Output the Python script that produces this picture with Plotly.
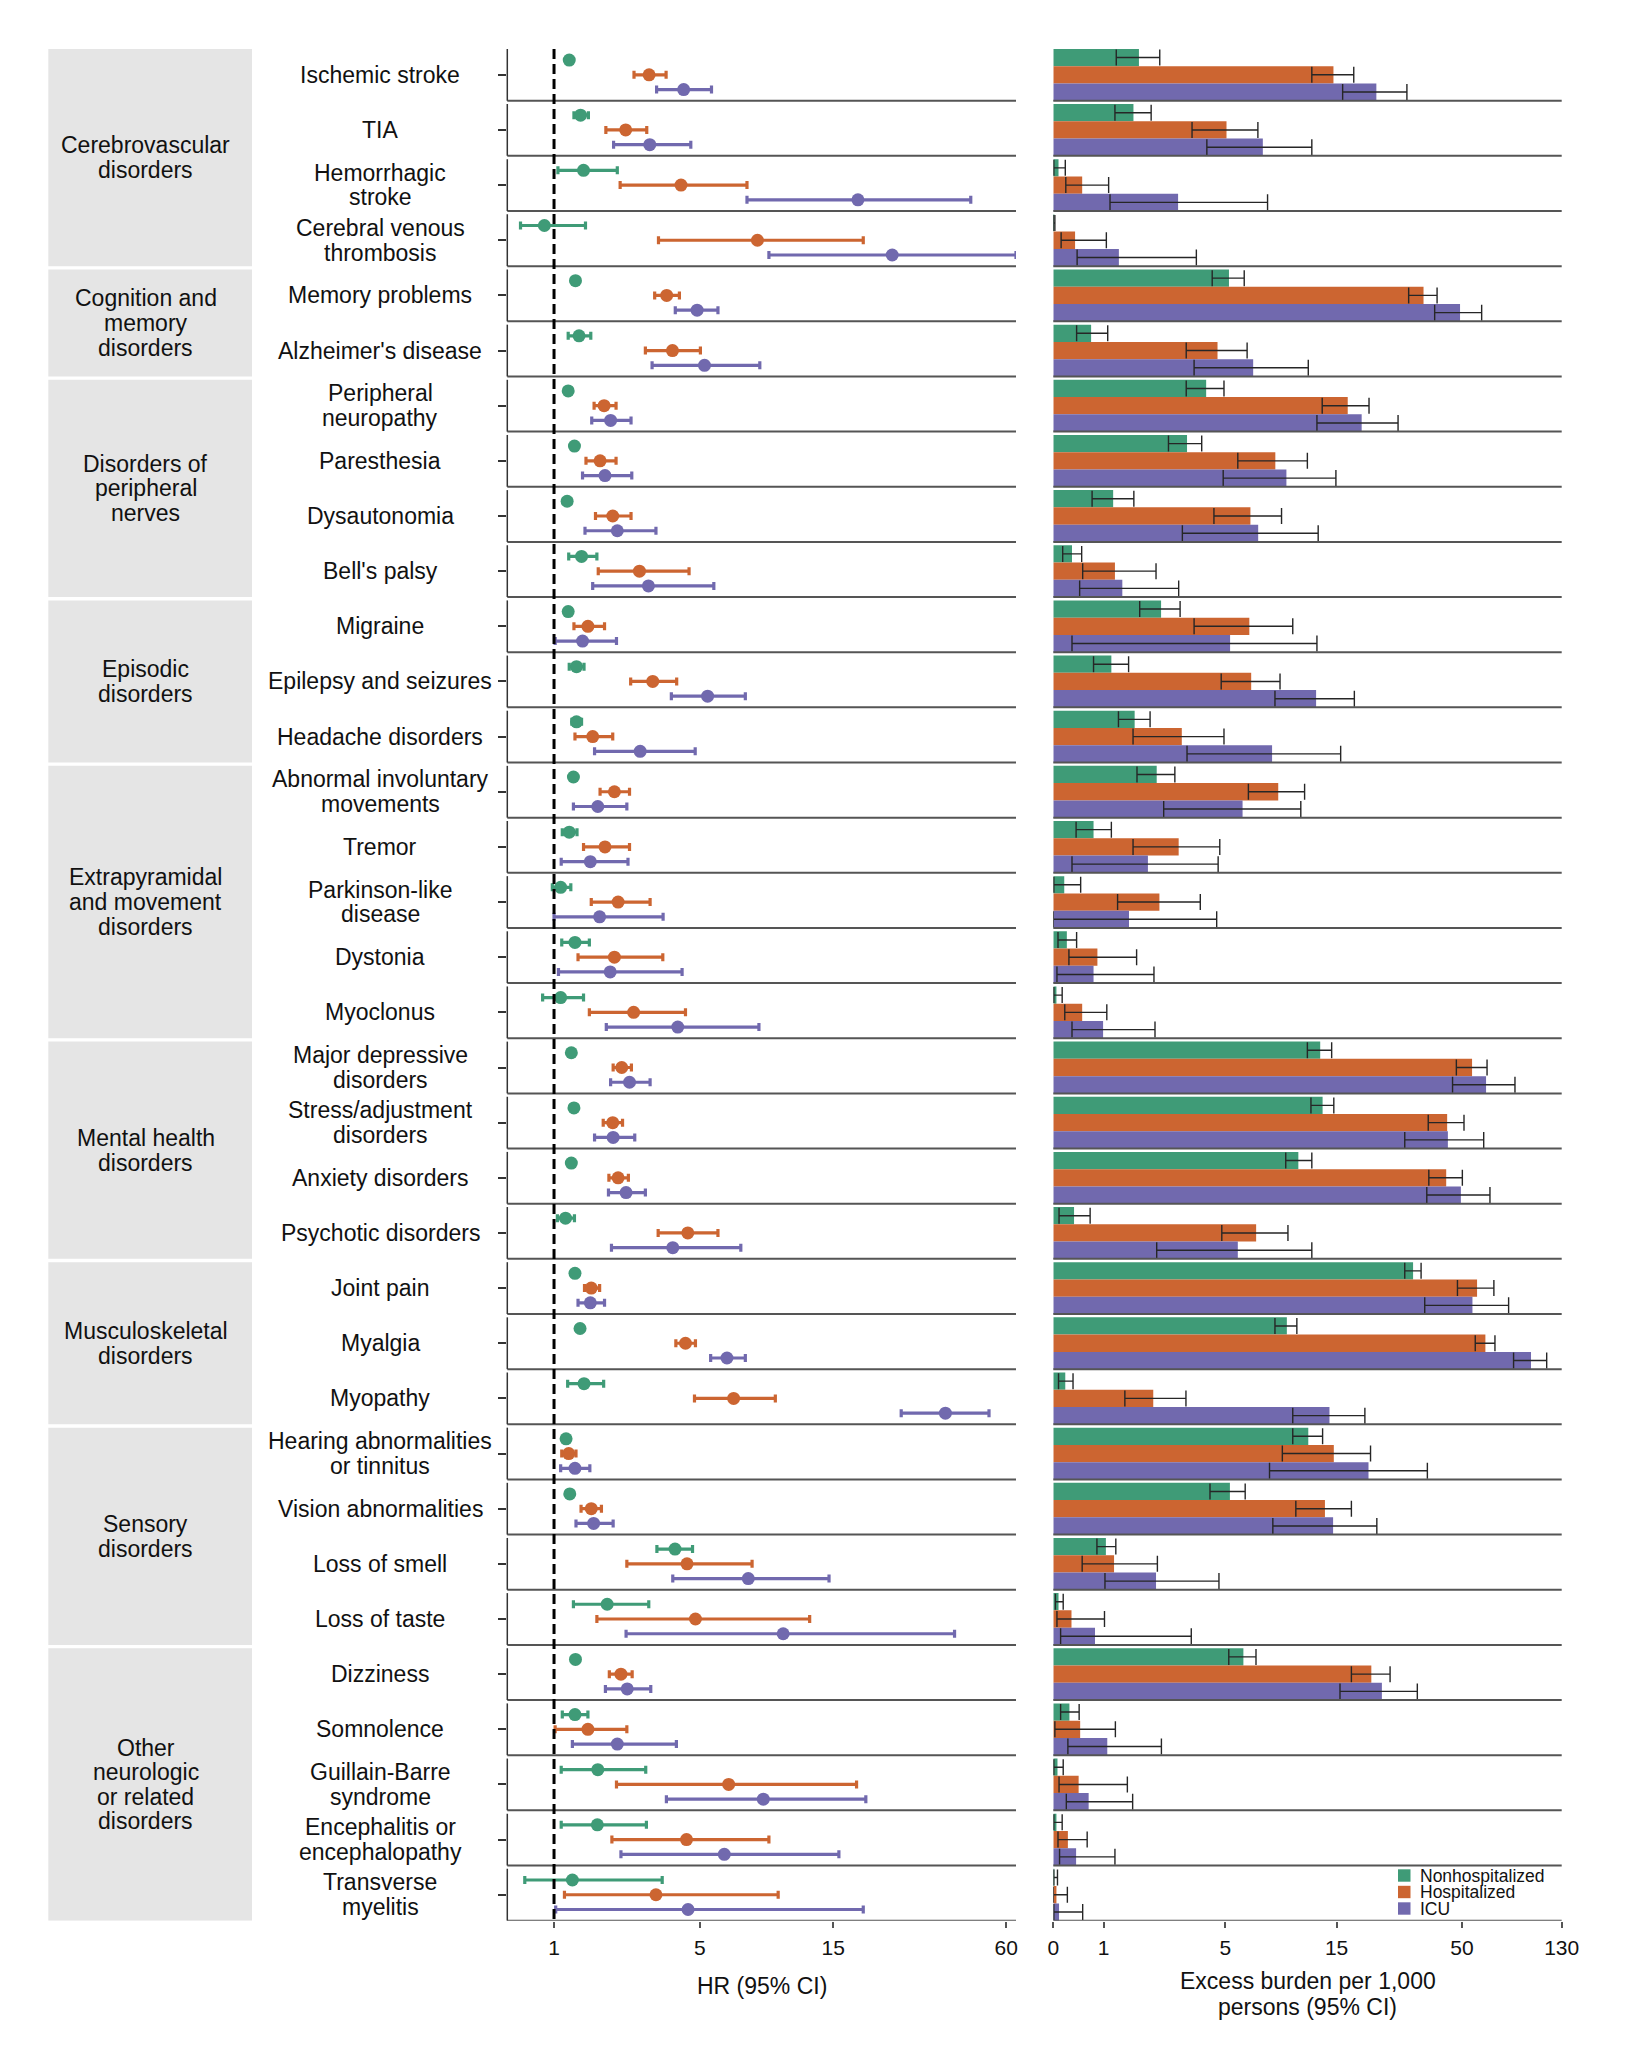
import numpy as np
import plotly.graph_objects as go

# ---------------- data ----------------
groups = ["Cerebrovascular\ndisorders", "Cognition and\nmemory\ndisorders",
          "Disorders of\nperipheral\nnerves", "Episodic\ndisorders",
          "Extrapyramidal\nand movement\ndisorders", "Mental health\ndisorders",
          "Musculoskeletal\ndisorders", "Sensory\ndisorders",
          "Other\nneurologic\nor related\ndisorders"]
group_sizes = [4, 2, 4, 3, 5, 4, 3, 4, 5]

outcomes = ["Ischemic stroke", "TIA", "Hemorrhagic\nstroke", "Cerebral venous\nthrombosis",
            "Memory problems", "Alzheimer's disease",
            "Peripheral\nneuropathy", "Paresthesia", "Dysautonomia", "Bell's palsy",
            "Migraine", "Epilepsy and seizures", "Headache disorders",
            "Abnormal involuntary\nmovements", "Tremor", "Parkinson-like\ndisease", "Dystonia", "Myoclonus",
            "Major depressive\ndisorders", "Stress/adjustment\ndisorders", "Anxiety disorders", "Psychotic disorders",
            "Joint pain", "Myalgia", "Myopathy",
            "Hearing abnormalities\nor tinnitus", "Vision abnormalities", "Loss of smell", "Loss of taste",
            "Dizziness", "Somnolence", "Guillain-Barre\nsyndrome", "Encephalitis or\nencephalopathy",
            "Transverse\nmyelitis"]

series_names = ["Nonhospitalized", "Hospitalized", "ICU"]

# Hazard ratios (95% CI)
hr_non = [1.28, 1.50, 1.56, 0.83, 1.40, 1.47, 1.26, 1.38, 1.24, 1.52, 1.26, 1.42, 1.42, 1.36, 1.28, 1.12, 1.39,
          1.12, 1.32, 1.37, 1.32, 1.21, 1.39, 1.49, 1.57, 1.22, 1.29, 4.02, 2.07, 1.40, 1.39, 1.86, 1.85, 1.34]
hr_non_lo = [1.24, 1.37, 1.07, 0.43, 1.36, 1.26, 1.22, 1.34, 1.17, 1.27, 1.22, 1.28, 1.33, 1.31, 1.15, 0.97, 1.14,
             0.80, 1.29, 1.34, 1.29, 1.06, 1.36, 1.45, 1.25, 1.18, 1.25, 3.41, 1.36, 1.36, 1.15, 1.13, 1.13, 0.50]
hr_non_hi = [1.32, 1.66, 2.31, 1.60, 1.44, 1.71, 1.30, 1.42, 1.31, 1.84, 1.30, 1.57, 1.52, 1.41, 1.43, 1.31, 1.68,
             1.56, 1.35, 1.40, 1.35, 1.38, 1.42, 1.53, 1.99, 1.26, 1.33, 4.69, 3.16, 1.44, 1.65, 3.07, 3.09, 3.58]

hr_hosp = [3.17, 2.52, 4.24, 8.10, 3.73, 3.93, 2.00, 1.91, 2.20, 2.89, 1.65, 3.28, 1.75, 2.24, 2.02, 2.33, 2.24,
           2.73, 2.42, 2.20, 2.33, 4.50, 1.72, 4.41, 6.65, 1.27, 1.72, 4.47, 4.81, 2.40, 1.65, 6.38, 4.45, 3.38]
hr_hosp_lo = [2.74, 2.04, 2.38, 3.46, 3.34, 3.06, 1.78, 1.61, 1.81, 1.87, 1.37, 2.65, 1.39, 1.91, 1.56, 1.72, 1.45,
              1.68, 2.21, 1.98, 2.11, 3.45, 1.58, 4.05, 4.77, 1.14, 1.51, 2.55, 1.84, 2.12, 1.02, 2.29, 2.18, 1.19]
hr_hosp_hi = [3.71, 3.10, 7.43, 19.1, 4.18, 5.02, 2.28, 2.28, 2.66, 4.55, 2.01, 4.08, 2.20, 2.62, 2.62, 3.20, 3.60,
              4.41, 2.67, 2.44, 2.59, 5.83, 1.90, 4.81, 9.38, 1.41, 1.94, 7.75, 12.4, 2.69, 2.55, 18.1, 8.90, 9.60]

hr_icu = [4.34, 3.19, 18.3, 24.1, 4.88, 5.20, 2.15, 2.02, 2.31, 3.15, 1.54, 5.34, 2.91, 1.86, 1.70, 1.90, 2.14,
          4.12, 2.62, 2.21, 2.53, 3.94, 1.70, 6.29, 36.9, 1.39, 1.77, 7.51, 10.0, 2.56, 2.31, 8.50, 6.15, 4.51]
hr_icu_lo = [3.40, 2.22, 7.43, 8.90, 4.03, 3.26, 1.73, 1.54, 1.59, 1.75, 1.02, 3.89, 1.79, 1.36, 1.13, 1.00, 1.08,
             2.05, 2.15, 1.79, 2.10, 2.17, 1.45, 5.48, 25.9, 1.12, 1.41, 3.94, 2.53, 2.03, 1.34, 3.72, 2.40, 1.03]
hr_icu_hi = [5.52, 4.62, 45.2, 64.9, 5.83, 8.26, 2.66, 2.68, 3.38, 5.63, 2.29, 7.33, 4.80, 2.55, 2.58, 3.61, 4.28,
             8.20, 3.20, 2.76, 3.06, 7.06, 2.01, 7.33, 52.3, 1.69, 2.21, 14.5, 39.7, 3.22, 4.07, 19.5, 15.7, 19.1]

# Excess burden per 1,000 persons (95% CI)
eb_non = [1.83, 1.69, 0.10, 0.01, 5.19, 0.74, 4.09, 3.32, 1.21, 0.36, 2.45, 1.17, 1.72, 2.32, 0.79, 0.21, 0.26,
          0.06, 12.8, 13.1, 10.35, 0.40, 31.3, 9.25, 0.23, 11.4, 5.24, 1.05, 0.10, 6.01, 0.31, 0.08, 0.06, 0.01]
eb_non_lo = [1.28, 1.25, 0.01, 0.0, 4.36, 0.45, 3.29, 2.68, 0.76, 0.18, 1.85, 0.79, 1.33, 1.78, 0.44, 0.01, 0.09,
             0.01, 11.3, 11.7, 9.15, 0.11, 28.9, 8.23, 0.10, 9.8, 4.26, 0.86, 0.04, 5.18, 0.14, 0.01, 0.01, 0.01]
eb_non_hi = [2.41, 2.16, 0.23, 0.03, 6.06, 1.09, 4.93, 3.90, 1.70, 0.55, 3.07, 1.57, 2.13, 2.89, 1.17, 0.53, 0.45,
             0.17, 14.3, 14.6, 11.8, 0.72, 33.8, 10.2, 0.38, 13.1, 6.12, 1.27, 0.19, 6.82, 0.50, 0.19, 0.17, 0.08]

eb_hosp = [14.55, 5.06, 0.56, 0.42, 34.6, 4.61, 16.7, 8.26, 6.45, 1.25, 6.38, 6.50, 3.13, 8.50, 3.02, 2.40, 0.87,
           0.56, 55.1, 43.4, 43.0, 6.83, 57.8, 62.6, 2.22, 14.6, 13.4, 1.23, 0.35, 20.96, 0.52, 0.49, 0.28, 0.06]
eb_hosp_lo = [11.8, 3.51, 0.24, 0.15, 30.0, 3.29, 13.05, 5.68, 4.44, 0.57, 3.59, 4.79, 1.68, 6.32, 1.68, 1.31, 0.30,
              0.22, 47.4, 36.2, 36.4, 4.82, 47.9, 56.8, 1.48, 8.85, 10.1, 0.56, 0.07, 17.3, 0.03, 0.11, 0.09, 0.0]
eb_hosp_hi = [17.7, 6.95, 1.11, 1.06, 39.4, 6.24, 20.5, 11.3, 8.78, 2.30, 9.80, 8.65, 4.93, 11.0, 4.72, 3.84, 1.77,
              1.07, 63.6, 51.0, 50.2, 9.35, 67.9, 68.6, 3.28, 20.8, 17.3, 2.34, 1.02, 25.1, 1.26, 1.54, 0.66, 0.27]

eb_icu = [22.0, 7.30, 3.00, 1.34, 49.1, 6.63, 19.1, 9.21, 6.97, 1.42, 5.25, 12.3, 8.0, 5.96, 2.07, 1.58, 0.79,
          0.99, 63.0, 43.7, 49.5, 5.68, 55.3, 96.9, 14.0, 20.4, 14.5, 2.30, 0.82, 23.2, 1.08, 0.69, 0.44, 0.11]
eb_icu_lo = [15.9, 4.12, 1.14, 0.46, 38.5, 3.59, 12.4, 4.89, 3.15, 0.51, 0.36, 8.23, 3.32, 2.53, 0.36, 0.0, 0.07,
             0.36, 45.7, 28.9, 35.7, 2.32, 35.0, 82.0, 9.8, 7.8, 8.06, 1.03, 0.14, 15.5, 0.28, 0.25, 0.12, 0.01]
eb_icu_hi = [29.5, 11.8, 7.65, 3.68, 60.4, 11.4, 27.1, 14.9, 12.55, 3.02, 12.4, 17.8, 15.6, 10.6, 4.64, 4.57, 2.24,
             2.27, 83.1, 61.6, 65.4, 11.8, 78.2, 112.6, 19.7, 35.9, 22.1, 4.68, 3.48, 32.6, 2.46, 1.67, 1.25, 0.57]

hr_ticks = [1, 5, 15, 60]
hr_limits = [0.216, 64.9]
eb_ticks = [0, 1, 5, 15, 50, 130]
eb_limits = [0, 130]

colors = ["#3f9b77", "#cc6531", "#7169ae"]
FONT = "Liberation Sans, Arial, sans-serif"
TXT = "#111111"


def ps(v):
    """pseudo-log transform (asinh(x/2)), as used by the original axes"""
    return np.arcsinh(np.asarray(v, dtype=float) / 2.0)


# ---------------- layout geometry (pixels) ----------------
W, HF = 1637, 2048
PITCH, PH, TOP = 55.15, 51.8, 48.9
n = len(outcomes)
total = (n - 1) * PITCH + PH
ydom = [1 - (TOP + total) / HF, 1 - TOP / HF]
tops = np.arange(n) * PITCH
FX = [507.3, 1016.0]
BX = [1053.3, 1561.7]
LINE_H = 24.6
LABEL_SIZE = 23

fig = go.Figure()

hr_sets = [(hr_non, hr_non_lo, hr_non_hi), (hr_hosp, hr_hosp_lo, hr_hosp_hi), (hr_icu, hr_icu_lo, hr_icu_hi)]
eb_sets = [(eb_non, eb_non_lo, eb_non_hi), (eb_hosp, eb_hosp_lo, eb_hosp_hi), (eb_icu, eb_icu_lo, eb_icu_hi)]
forest_off = [0.215, 0.5, 0.785]

for k in range(3):
    v, lo, hi = hr_sets[k]
    fig.add_trace(go.Scatter(
        x=ps(v), y=tops + PH * forest_off[k], mode="markers", name=series_names[k],
        marker=dict(size=13, color=colors[k]),
        error_x=dict(type="data", symmetric=False, array=ps(hi) - ps(v), arrayminus=ps(v) - ps(lo),
                     color=colors[k], thickness=3.2, width=4),
        xaxis="x", yaxis="y", showlegend=False, cliponaxis=False))
    v, lo, hi = eb_sets[k]
    fig.add_trace(go.Bar(
        x=ps(v), y=tops + PH * (k + 0.5) / 3, width=PH / 3, orientation="h", name=series_names[k],
        marker=dict(color=colors[k], line=dict(width=0)),
        error_x=dict(type="data", symmetric=False, array=ps(hi) - ps(v), arrayminus=ps(v) - ps(lo),
                     color="#262626", thickness=1.4, width=8),
        xaxis="x2", yaxis="y", showlegend=False))

shapes = []
# group boxes
start = 0
for g, size in zip(groups, group_sizes):
    shapes.append(dict(type="rect", xref="paper", yref="y", x0=48.3 / W, x1=252 / W,
                       y0=tops[start], y1=tops[start + size - 1] + PH,
                       fillcolor="#e5e5e5", line=dict(width=0), layer="below"))
    start += size
# panel bottom lines and left axis segments
for t in tops:
    shapes.append(dict(type="line", xref="x domain", yref="y", x0=0, x1=1, y0=t + PH, y1=t + PH,
                       line=dict(color="#555555", width=2)))
    shapes.append(dict(type="line", xref="x2 domain", yref="y", x0=0, x1=1, y0=t + PH, y1=t + PH,
                       line=dict(color="#555555", width=2)))
    shapes.append(dict(type="line", xref="x domain", yref="y", x0=0, x1=0, y0=t, y1=t + PH,
                       line=dict(color="#333333", width=1.5)))
# reference line at HR = 1
shapes.append(dict(type="line", xref="x", yref="y", x0=float(ps(1)), x1=float(ps(1)), y0=0, y1=total,
                   line=dict(color="black", width=3, dash="10px,5px"), layer="above"))

annotations = []


def add_lines(text, xc, yc, size, yref="y"):
    lines = text.split("\n")
    m = len(lines)
    for i, ln in enumerate(lines):
        yy = yc + (i - (m - 1) / 2) * LINE_H
        annotations.append(dict(text=ln, x=xc, y=yy if yref == "y" else 1 - yy / HF, xref="paper", yref=yref,
                                xanchor="center", yanchor="middle", showarrow=False,
                                font=dict(family=FONT, size=size, color=TXT)))


start = 0
for g, size in zip(groups, group_sizes):
    yc = (tops[start] + tops[start + size - 1] + PH) / 2
    add_lines(g, 145.5 / W, yc, LABEL_SIZE)
    start += size
for i, o in enumerate(outcomes):
    add_lines(o, 380 / W, tops[i] + PH / 2, LABEL_SIZE)

# axis titles
annotations.append(dict(text="HR (95% CI)", x=(FX[0] + FX[1]) / 2 / W, y=1 - 1986 / HF, xref="paper",
                        yref="paper", xanchor="center", yanchor="middle", showarrow=False,
                        font=dict(family=FONT, size=LABEL_SIZE, color=TXT)))
for txt, yy in [("Excess burden per 1,000", 1981), ("persons (95% CI)", 2007)]:
    annotations.append(dict(text=txt, x=(BX[0] + BX[1]) / 2 / W, y=1 - yy / HF, xref="paper",
                            yref="paper", xanchor="center", yanchor="middle", showarrow=False,
                            font=dict(family=FONT, size=LABEL_SIZE, color=TXT)))

# legend (drawn manually for tight spacing)
for k, (nm, yc) in enumerate(zip(series_names, [1875.5, 1892.0, 1908.5])):
    shapes.append(dict(type="rect", xref="paper", yref="paper", x0=1398 / W, x1=1410.5 / W,
                       y0=1 - (yc + 6.2) / HF, y1=1 - (yc - 6.2) / HF, fillcolor=colors[k], line=dict(width=0)))
    annotations.append(dict(text=nm, x=1418 / W, y=1 - yc / HF, xref="paper", yref="paper",
                            xanchor="left", yanchor="middle", showarrow=False,
                            font=dict(family=FONT, size=17.5, color=TXT)))

axis_common = dict(showgrid=False, zeroline=False, showline=False, ticks="outside", ticklen=6,
                   tickwidth=1.5, tickcolor="#555555", tickfont=dict(family=FONT, size=21, color=TXT),
                   anchor="y", ticklabelstandoff=2, automargin=False)

fig.update_layout(
    width=W, height=HF, margin=dict(l=0, r=0, t=0, b=0, autoexpand=False),
    paper_bgcolor="white", plot_bgcolor="white", barmode="overlay",
    xaxis=dict(domain=[FX[0] / W, FX[1] / W], range=list(ps(hr_limits)), tickvals=list(ps(hr_ticks)),
               ticktext=[str(t) for t in hr_ticks], **axis_common),
    xaxis2=dict(domain=[BX[0] / W, BX[1] / W], range=list(ps(eb_limits)), tickvals=list(ps(eb_ticks)),
                ticktext=[str(t) for t in eb_ticks], **axis_common),
    yaxis=dict(domain=ydom, range=[total, 0], showgrid=False, zeroline=False, showline=False,
               tickvals=list(tops + PH / 2), ticktext=[""] * n, ticks="outside", ticklen=8,
               tickwidth=1.5, tickcolor="#333333", anchor="x", automargin=False),
    shapes=shapes, annotations=annotations, showlegend=False,
)

fig.write_html("out.html", config={"displayModeBar": False},
               post_script="document.body.style.margin='0';document.body.style.overflow='hidden';")
